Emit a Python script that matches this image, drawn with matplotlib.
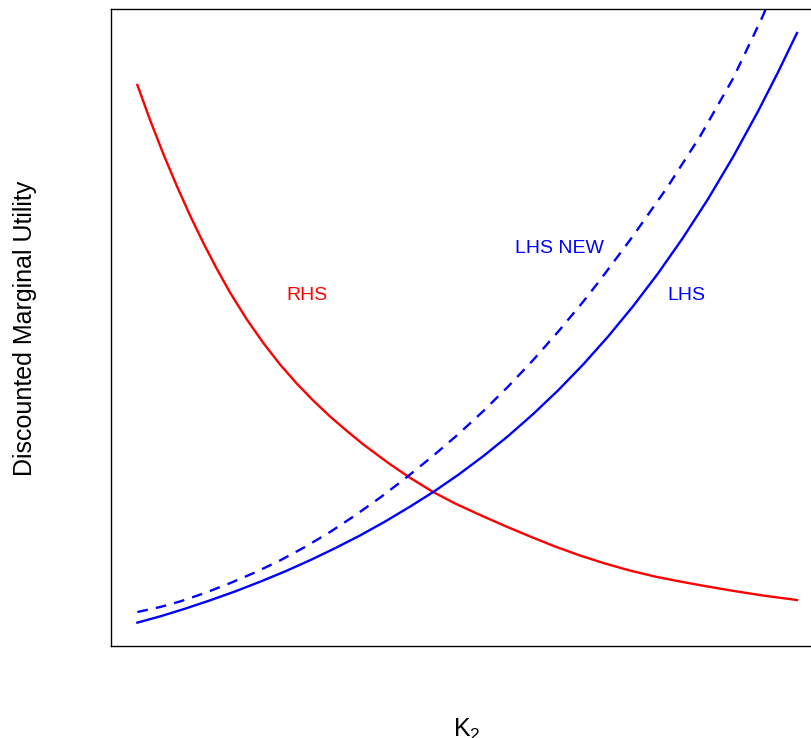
import matplotlib
matplotlib.use("Agg")
import matplotlib.pyplot as plt

plt.rcParams["font.family"] = ["Liberation Sans", "DejaVu Sans"]

# K2 in arbitrary units (0..10)
rhs_x = [0.0, 0.197, 0.398, 0.602, 0.803, 1.005, 1.208, 1.409, 1.662, 1.914,
         2.167, 2.420, 2.671, 2.924, 3.177, 3.429, 3.803, 4.136, 4.485, 4.818,
         5.197, 5.576, 5.955, 6.333, 6.712, 7.091, 7.470, 7.848, 8.227, 8.606,
         8.985, 9.485, 10.0]
rhs_y = [9.117, 8.509, 7.934, 7.392, 6.891, 6.424, 5.988, 5.586, 5.132, 4.730,
         4.367, 4.044, 3.754, 3.487, 3.243, 3.012, 2.701, 2.447, 2.207, 2.012,
         1.817, 1.630, 1.452, 1.282, 1.129, 0.993, 0.874, 0.772, 0.688, 0.611,
         0.538, 0.450, 0.374]

lhs_x = [0.0, 0.348, 0.727, 1.106, 1.485, 1.864, 2.242, 2.621, 3.0, 3.379,
         3.758, 4.136, 4.485, 4.864, 5.242, 5.621, 6.0, 6.379, 6.758, 7.136,
         7.515, 7.894, 8.273, 8.652, 9.030, 9.409, 9.712, 10.0]
lhs_y = [-0.01, 0.097, 0.228, 0.370, 0.521, 0.686, 0.861, 1.051, 1.255, 1.472,
         1.708, 1.961, 2.207, 2.499, 2.815, 3.158, 3.531, 3.934, 4.372, 4.847,
         5.362, 5.920, 6.526, 7.183, 7.895, 8.669, 9.333, 10.0]

lhs_new_x = [0.0, 0.348, 0.652, 1.030, 1.409, 1.788, 2.167, 2.545, 2.924, 3.303,
             3.682, 4.030, 4.485, 4.864, 5.242, 5.621, 6.0, 6.379, 6.758, 7.015,
             7.515, 8.030, 8.530, 9.030, 9.470, 10.0]
lhs_new_y = [0.170, 0.256, 0.351, 0.496, 0.662, 0.844, 1.048, 1.277, 1.531, 1.812,
             2.114, 2.411, 2.823, 3.188, 3.579, 3.998, 4.448, 4.929, 5.438, 5.805,
             6.555, 7.375, 8.244, 9.226, 10.260, 11.627]

fig = plt.figure(figsize=(8.12, 7.38), dpi=100)
ax = fig.add_axes([0.1367, 0.1252, 0.8773, 0.862])

ax.plot(rhs_x, rhs_y, color="#FF0000", lw=1.7)
ax.plot(lhs_x, lhs_y, color="#0000FF", lw=1.7)
ax.plot(lhs_new_x, lhs_new_y, color="#0000FF", lw=1.7, dashes=(4.5, 3.5))

ax.text(2.576, 5.552, "RHS", color="#FF0000", fontsize=14, ha="center", va="center")
ax.text(8.318, 5.552, "LHS", color="#0000FF", fontsize=14, ha="center", va="center")
ax.text(6.394, 6.35, "LHS NEW", color="#0000FF", fontsize=14, ha="center", va="center")

ax.set_xlim(-0.4, 10.4)
ax.set_ylim(-0.4, 10.4)
ax.set_xticks([])
ax.set_yticks([])
for s in ax.spines.values():
    s.set_linewidth(1.0)

fig.text(25 / 812, (738 - 328) / 738, "Discounted Marginal Utility",
         rotation=90, fontsize=18, ha="center", va="center")
fig.text(467 / 812, 1.5 / 738, r"$\mathregular{K_2}$", fontsize=18,
         ha="center", va="baseline")

fig.savefig("out.png", dpi=100)
